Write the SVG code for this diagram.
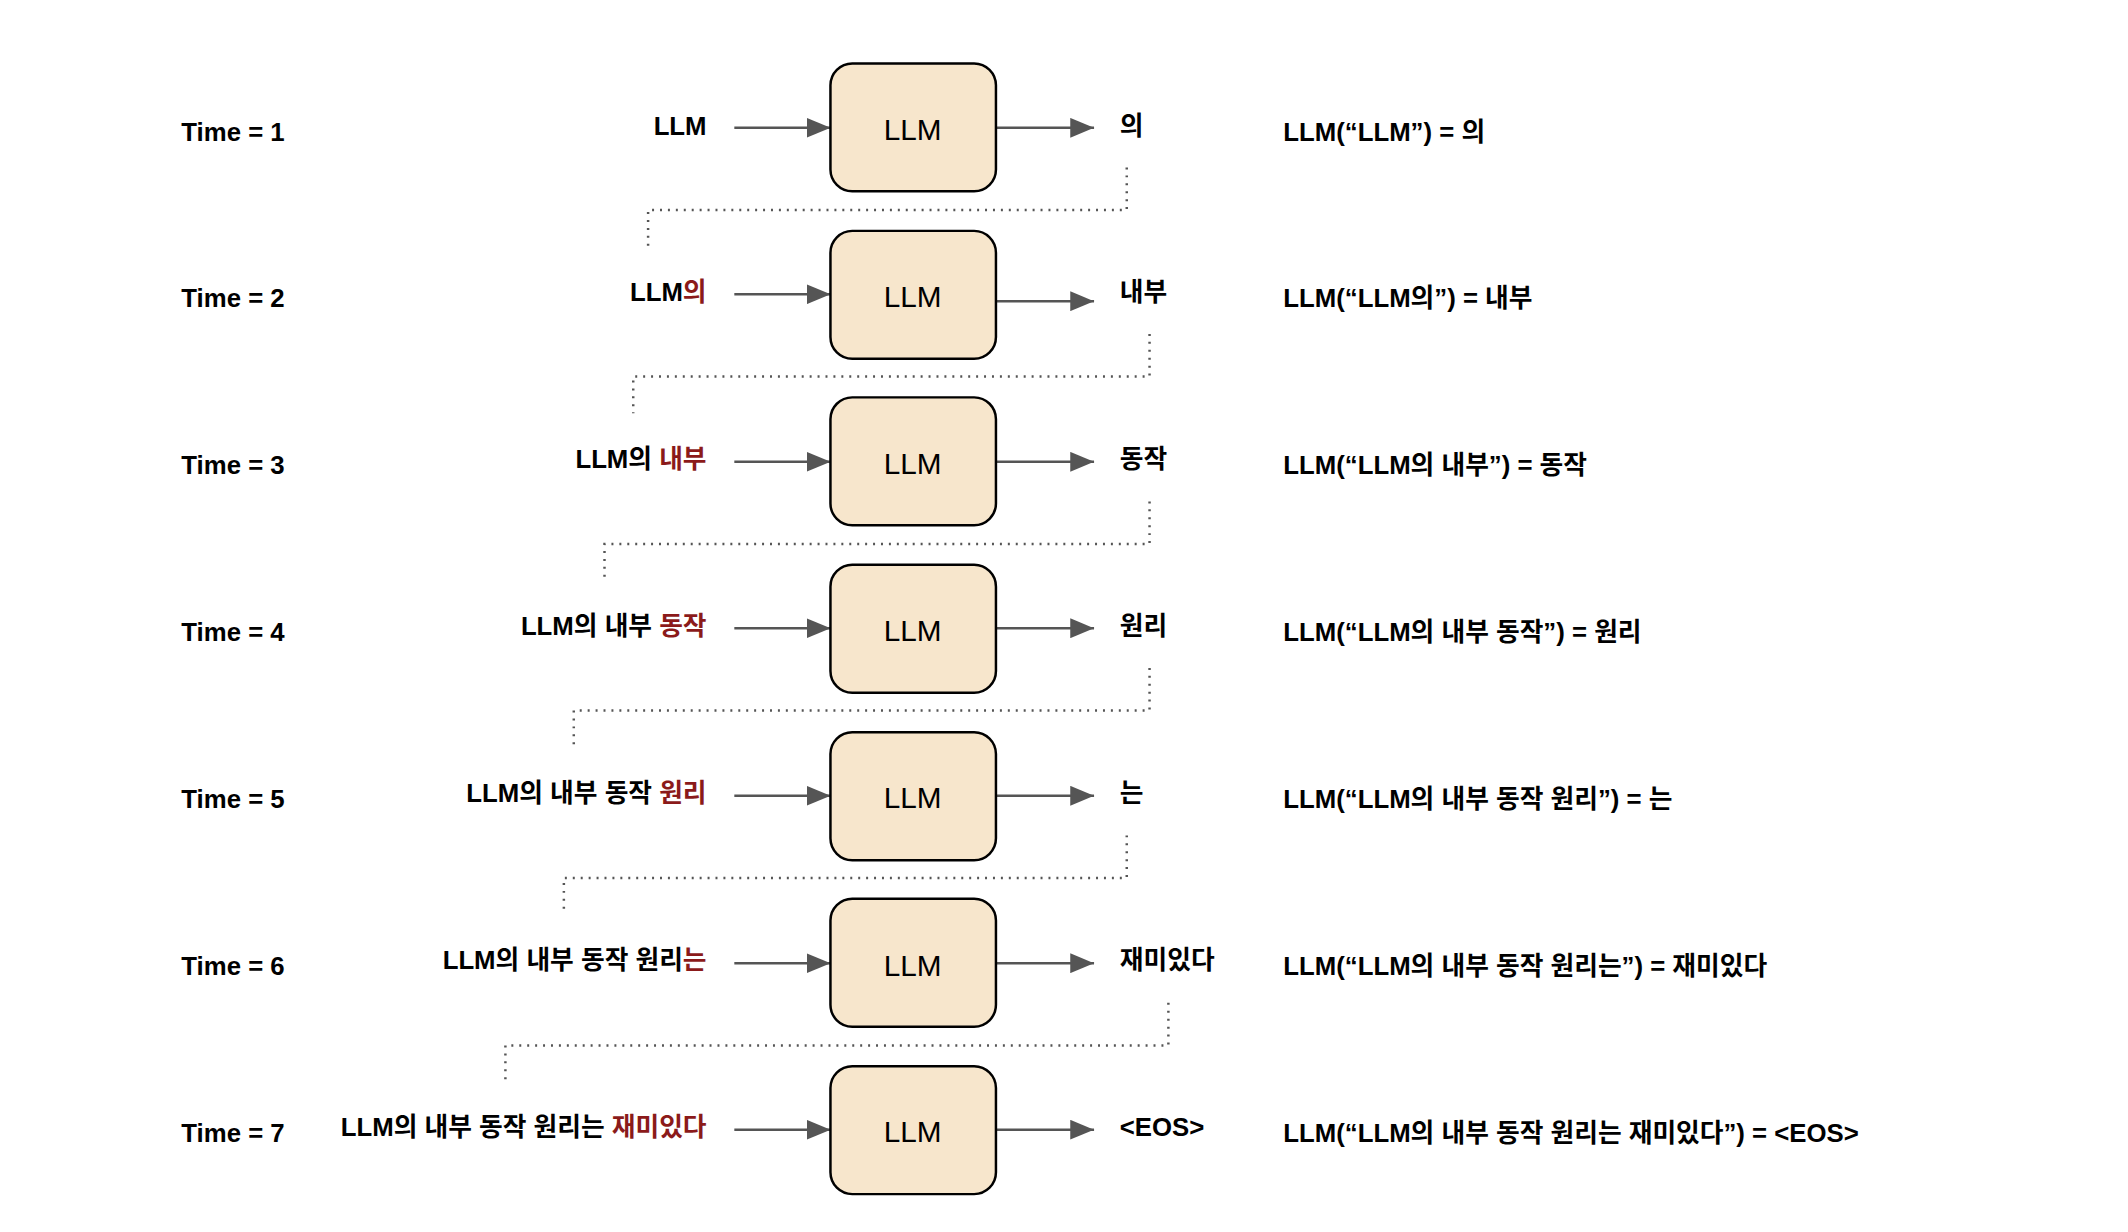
<svg xmlns="http://www.w3.org/2000/svg" width="2128" height="1232" viewBox="0 0 2128 1232">
<style>
text{font-family:"Liberation Sans","Noto Sans CJK KR",sans-serif;font-weight:bold;font-size:26px;fill:#000;dominant-baseline:central}
.in{text-anchor:end}
.r{fill:#8b1a1a}
.box{fill:#f7e6cc;stroke:#000;stroke-width:2.5}
.bl{font-size:30px;text-anchor:middle;font-weight:normal}
.ar{stroke:#555;stroke-width:2.5;fill:none;marker-end:url(#b)}
.dot{stroke:#555;stroke-width:2.5;fill:none;stroke-dasharray:2 6}
</style>
<defs><marker id="b" markerWidth="24" markerHeight="20" refX="24" refY="10" orient="auto" markerUnits="userSpaceOnUse"><path d="M0,0 L24,10 L0,20 z" fill="#555"/></marker></defs>
<g transform="translate(-1,-3) scale(0.991)">
<g id="connectors">
<path class="ar" d="M742 132H839"/><path class="ar" d="M1006 132H1105"/>
<path class="ar" d="M742 300H839"/><path class="ar" d="M1006 307H1105"/>
<path class="ar" d="M742 469H839"/><path class="ar" d="M1006 469H1105"/>
<path class="ar" d="M742 637H839"/><path class="ar" d="M1006 637H1105"/>
<path class="ar" d="M742 806H839"/><path class="ar" d="M1006 806H1105"/>
<path class="ar" d="M742 975H839"/><path class="ar" d="M1006 975H1105"/>
<path class="ar" d="M742 1143H839"/><path class="ar" d="M1006 1143H1105"/>
<path class="dot" d="M1138 172V215H655V251"/>
<path class="dot" d="M1161 340V383H640V420"/>
<path class="dot" d="M1161 509V552H611V589"/>
<path class="dot" d="M1161 677V720H580V757"/>
<path class="dot" d="M1138 846V889H570V926"/>
<path class="dot" d="M1180 1015V1058H511V1095"/>
</g>
<g id="row1"><text x="184" y="136">Time = 1</text><text x="714" y="130" class="in">LLM</text><rect class="box" x="839" y="67" width="167" height="129" rx="22"/><text x="922" y="134" class="bl">LLM</text><text x="1131" y="130">의</text><text x="1296" y="136">LLM(“LLM”) = 의</text></g>
<g id="row2"><text x="184" y="304">Time = 2</text><text x="714" y="298" class="in">LLM<tspan class="r">의</tspan></text><rect class="box" x="839" y="236" width="167" height="129" rx="22"/><text x="922" y="302" class="bl">LLM</text><text x="1131" y="298">내부</text><text x="1296" y="304">LLM(“LLM의”) = 내부</text></g>
<g id="row3"><text x="184" y="472">Time = 3</text><text x="714" y="466" class="in">LLM의 <tspan class="r">내부</tspan></text><rect class="box" x="839" y="404" width="167" height="129" rx="22"/><text x="922" y="471" class="bl">LLM</text><text x="1131" y="466">동작</text><text x="1296" y="472">LLM(“LLM의 내부”) = 동작</text></g>
<g id="row4"><text x="184" y="641">Time = 4</text><text x="714" y="635" class="in">LLM의 내부 <tspan class="r">동작</tspan></text><rect class="box" x="839" y="573" width="167" height="129" rx="22"/><text x="922" y="639" class="bl">LLM</text><text x="1131" y="635">원리</text><text x="1296" y="641">LLM(“LLM의 내부 동작”) = 원리</text></g>
<g id="row5"><text x="184" y="809">Time = 5</text><text x="714" y="803" class="in">LLM의 내부 동작 <tspan class="r">원리</tspan></text><rect class="box" x="839" y="742" width="167" height="129" rx="22"/><text x="922" y="808" class="bl">LLM</text><text x="1131" y="803">는</text><text x="1296" y="809">LLM(“LLM의 내부 동작 원리”) = 는</text></g>
<g id="row6"><text x="184" y="978">Time = 6</text><text x="714" y="972" class="in">LLM의 내부 동작 원리<tspan class="r">는</tspan></text><rect class="box" x="839" y="910" width="167" height="129" rx="22"/><text x="922" y="977" class="bl">LLM</text><text x="1131" y="972">재미있다</text><text x="1296" y="978">LLM(“LLM의 내부 동작 원리는”) = 재미있다</text></g>
<g id="row7"><text x="184" y="1146">Time = 7</text><text x="714" y="1140" class="in">LLM의 내부 동작 원리는 <tspan class="r">재미있다</tspan></text><rect class="box" x="839" y="1079" width="167" height="129" rx="22"/><text x="922" y="1145" class="bl">LLM</text><text x="1131" y="1140">&lt;EOS&gt;</text><text x="1296" y="1146">LLM(“LLM의 내부 동작 원리는 재미있다”) = &lt;EOS&gt;</text></g>
</g>
</svg>
